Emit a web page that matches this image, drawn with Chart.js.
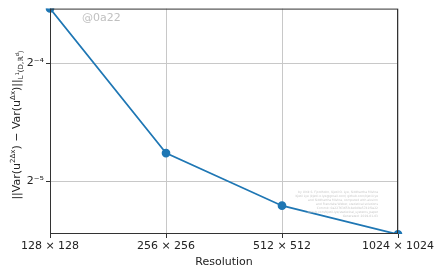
<!DOCTYPE html>
<html>
<head>
<meta charset="utf-8">
<script src="https://cdn.jsdelivr.net/npm/chart.js@4/dist/chart.umd.min.js"></script>
<style>
  html, body { margin: 0; padding: 0; background: #fff; }
  #wrap { width: 439px; height: 274px; }
</style>
</head>
<body>
<div id="wrap"><canvas id="myChart" width="439" height="274"></canvas></div>
<script>
var resolutions = ["128 × 128", "256 × 256", "512 × 512", "1024 × 1024"];
var errors = [0.0862, 0.0369, 0.0271, 0.0229];
var yTicks = [1 / 32, 1 / 16];
var yTickLabels = ["2⁻⁵", "2⁻⁴"];
var yMin = Math.pow(2, -5.445);
var yMax = Math.pow(2, -3.538);

var font = "'DejaVu Sans', sans-serif";

// black frame around the plot + watermark + y title with sub/superscripts
var extras = {
  id: 'extras',
  afterDraw: function(chart) {
    var c = chart.ctx, a = chart.chartArea;
    c.save();
    c.strokeStyle = '#333';
    c.lineWidth = 1;
    c.strokeRect(a.left + 0.5, a.top + 0.5, a.right - a.left - 1, a.bottom - a.top - 1);

    c.fillStyle = '#c0c0c0';
    c.font = '11px ' + font;
    c.textBaseline = 'middle';
    c.fillText('@0a22', 82, 18);

    c.fillStyle = '#c8c8c8';
    c.font = '3px ' + font;
    c.textAlign = 'right';
    var notes = [
      'by Ulrik S. Fjordholm, Kjetil O. Lye, Siddhartha Mishra',
      'Kjetil Lye (kjetil.o.lye@gmail.com) github.com/kjetil-lye',
      'and Siddhartha Mishra, computed with alsvinn',
      'and Franziska Weber, statistical solutions',
      'Commit: 0a2276365fc4e0d9e5741f0a22',
      'github.com/kjetil-lye/statistical_systems_paper',
      'Generated: 2019-01-03'
    ];
    for (var i = 0; i < notes.length; i++) {
      c.fillText(notes[i], 378, 192 + i * 4);
    }

    // y axis title
    c.translate(16, 125);
    c.rotate(-Math.PI / 2);
    c.fillStyle = '#222';
    c.textAlign = 'left';
    c.textBaseline = 'alphabetic';
    var parts = [
      ['||Var(u', 11, 0], ['2Δx', 7, -5], [') − Var(u', 11, 0], ['Δx', 7, -5],
      [')||', 11, 0], ['L', 7, 3], ['1', 5, -1], ['(D,ℝ', 7, 3], ['d', 5, -1], [')', 7, 3]
    ];
    var total = 0;
    parts.forEach(function(p) { c.font = p[1] + 'px ' + font; total += c.measureText(p[0]).width; });
    var x = -total / 2;
    parts.forEach(function(p) {
      c.font = p[1] + 'px ' + font;
      c.fillText(p[0], x, 4 + p[2]);
      x += c.measureText(p[0]).width;
    });
    c.restore();
  }
};

var ctx = document.getElementById("myChart");
var myChart = new Chart(ctx, {
  type: 'line',
  data: {
    labels: resolutions,
    datasets: [{
      data: errors,
      borderColor: '#1f77b4',
      backgroundColor: '#1f77b4',
      borderWidth: 1.7,
      pointRadius: 3.5,
      pointHoverRadius: 3.5,
      tension: 0,
      fill: false
    }]
  },
  options: {
    responsive: false,
    animation: false,
    layout: { padding: { left: 0, right: 41, top: 7, bottom: 0 } },
    plugins: { legend: { display: false }, tooltip: { enabled: false } },
    scales: {
      x: {
        type: 'category',
        offset: false,
        afterFit: function(s) { s.height = 40; },
        grid: { color: '#c8c8c8', tickColor: '#333', tickLength: 4, drawTicks: true },
        border: { display: false },
        ticks: { color: '#222', font: { family: font, size: 11 }, maxRotation: 0, autoSkip: false, padding: 2 },
        title: { display: true, text: 'Resolution', color: '#222', font: { family: font, size: 11 }, padding: { top: 0, bottom: 5 } }
      },
      y: {
        type: 'logarithmic',
        min: yMin,
        max: yMax,
        afterFit: function(s) { s.width = 50; },
        afterBuildTicks: function(s) {
          s.ticks = yTicks.map(function(v) { return { value: v }; });
        },
        grid: { color: '#c8c8c8', tickColor: '#333', tickLength: 4 },
        border: { display: false },
        ticks: {
          color: '#222',
          font: { family: font, size: 11 },
          padding: 2,
          callback: function(v) {
            var i = yTicks.indexOf(v);
            return i >= 0 ? yTickLabels[i] : '';
          }
        }
      }
    }
  },
  plugins: [extras]
});
</script>
</body>
</html>
